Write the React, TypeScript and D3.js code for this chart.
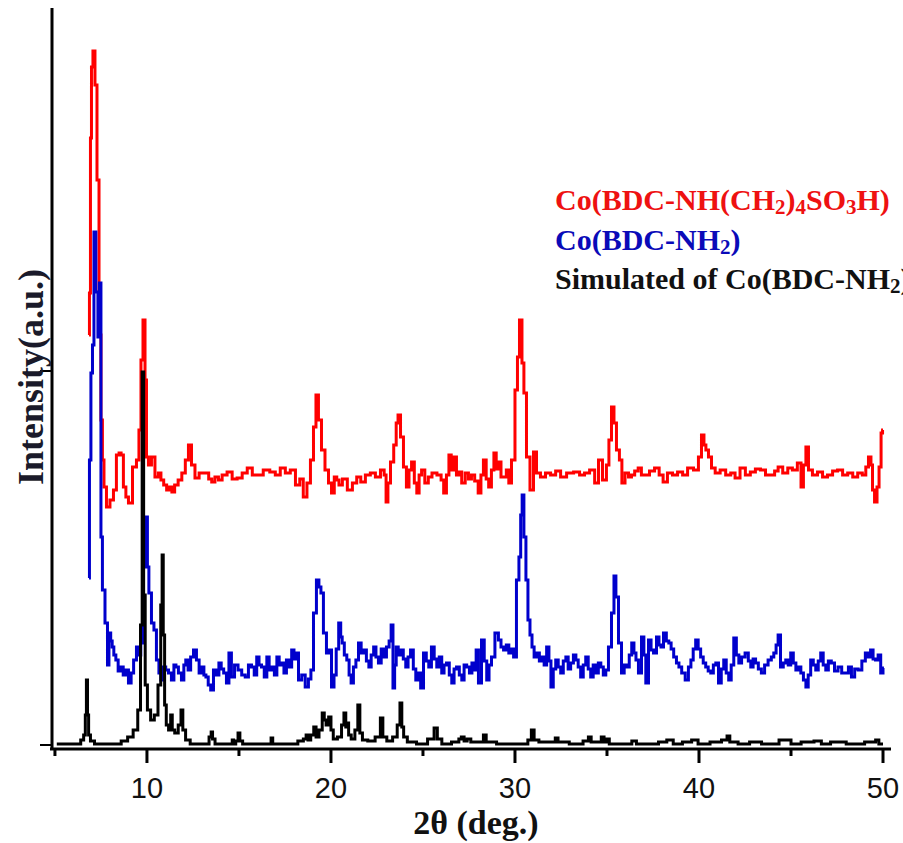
import React, { useEffect, useRef } from 'react';
import * as d3 from 'd3';

// 2θ (deg.) vs intensity (a.u., offset patterns as plotted)
const redPattern: [number, number][] = [
  [6.85, 410], [6.9, 452], [6.96, 607], [7.01, 678], [7.12, 694], [7.23, 660], [7.34, 565], [7.45, 410],
  [7.55, 325], [7.61, 285], [7.72, 258], [7.88, 238], [8.1, 245], [8.26, 255], [8.42, 290], [8.55, 292],
  [8.64, 290], [8.8, 258], [8.91, 248], [9.08, 242], [9.35, 278], [9.51, 285], [9.62, 315], [9.73, 385],
  [9.84, 425], [9.95, 365], [10.0, 288], [10.16, 280], [10.33, 288], [10.54, 268], [10.7, 272], [10.82, 265],
  [11.0, 260], [11.14, 255], [11.3, 258], [11.41, 253], [11.6, 260], [11.79, 265], [12.0, 272], [12.17, 285],
  [12.34, 300], [12.5, 280], [12.72, 267], [12.95, 272], [13.26, 272], [13.45, 266], [13.59, 263], [13.8, 268],
  [13.97, 265], [14.2, 270], [14.51, 273], [14.75, 266], [15.05, 267], [15.3, 272], [15.6, 277], [15.85, 270],
  [16.14, 270], [16.5, 275], [16.85, 273], [17.1, 270], [17.39, 277], [17.65, 272], [17.93, 275], [18.21, 260],
  [18.4, 266], [18.59, 248], [18.8, 262], [18.97, 285], [19.13, 318], [19.24, 350], [19.4, 325], [19.57, 295],
  [19.78, 275], [19.95, 262], [20.11, 252], [20.25, 268], [20.38, 265], [20.49, 260], [20.75, 266], [21.03, 255],
  [21.3, 262], [21.5, 268], [21.74, 263], [22.0, 270], [22.28, 272], [22.55, 268], [22.83, 275], [22.95, 270],
  [23.04, 243], [23.15, 262], [23.32, 283], [23.5, 300], [23.59, 322], [23.7, 330], [23.86, 308], [24.02, 278],
  [24.18, 258], [24.3, 275], [24.46, 283], [24.6, 262], [24.73, 252], [24.85, 270], [25.0, 275], [25.2, 262],
  [25.38, 268], [25.6, 272], [25.92, 270], [26.05, 265], [26.2, 252], [26.35, 270], [26.47, 290], [26.6, 275],
  [26.74, 288], [26.9, 270], [27.01, 273], [27.2, 262], [27.39, 272], [27.55, 266], [27.72, 270], [27.9, 264],
  [28.1, 252], [28.2, 270], [28.37, 285], [28.5, 266], [28.64, 258], [28.8, 275], [28.91, 292], [29.05, 276],
  [29.18, 283], [29.3, 268], [29.46, 268], [29.6, 275], [29.73, 262], [29.89, 285], [30.11, 355], [30.16, 388],
  [30.33, 425], [30.43, 382], [30.54, 352], [30.71, 288], [30.92, 255], [31.09, 293], [31.25, 272], [31.52, 268],
  [31.8, 272], [32.07, 270], [32.35, 274], [32.61, 268], [33.0, 272], [33.37, 273], [33.65, 270], [33.91, 272],
  [34.2, 275], [34.46, 262], [34.62, 285], [34.89, 265], [35.05, 280], [35.16, 305], [35.33, 338], [35.43, 322],
  [35.6, 295], [35.75, 285], [35.87, 262], [36.09, 272], [36.25, 268], [36.41, 270], [36.6, 274], [36.79, 277],
  [36.95, 270], [37.17, 270], [37.45, 274], [37.72, 277], [37.95, 270], [38.15, 263], [38.42, 272], [38.7, 270],
  [38.97, 273], [39.25, 270], [39.51, 277], [39.89, 275], [40.05, 288], [40.22, 310], [40.32, 300], [40.43, 295],
  [40.6, 288], [40.76, 277], [41.0, 272], [41.3, 275], [41.6, 270], [41.85, 272], [42.07, 267], [42.39, 277],
  [42.65, 270], [42.93, 273], [43.2, 276], [43.48, 275], [43.75, 270], [44.02, 270], [44.2, 274], [44.4, 278],
  [44.7, 272], [44.95, 277], [45.2, 275], [45.49, 282], [45.6, 258], [45.75, 280], [45.87, 298], [46.03, 275],
  [46.3, 270], [46.58, 273], [46.85, 268], [47.12, 270], [47.4, 274], [47.66, 275], [47.95, 270], [48.21, 272],
  [48.5, 268], [48.75, 272], [49.0, 270], [49.13, 278], [49.29, 288], [49.4, 280], [49.46, 255], [49.62, 243],
  [49.73, 258], [49.84, 278], [49.95, 312], [50.0, 315],
];

const bluePattern: [number, number][] = [
  [6.85, 167], [6.9, 285], [7.01, 372], [7.07, 400], [7.17, 513], [7.28, 453], [7.39, 408], [7.45, 462],
  [7.55, 208], [7.61, 155], [7.83, 122], [7.88, 80], [7.99, 112], [8.07, 104], [8.15, 98], [8.25, 90],
  [8.37, 85], [8.5, 74], [8.64, 78], [8.78, 70], [8.91, 75], [9.08, 62], [9.2, 72], [9.35, 85],
  [9.51, 98], [9.6, 90], [9.73, 102], [9.84, 178], [9.95, 215], [10.0, 228], [10.05, 178], [10.16, 152],
  [10.33, 122], [10.43, 115], [10.6, 85], [10.7, 72], [10.82, 65], [10.95, 78], [11.09, 75], [11.25, 72],
  [11.41, 65], [11.52, 80], [11.63, 78], [11.79, 72], [11.96, 65], [12.05, 80], [12.17, 85], [12.3, 75],
  [12.45, 88], [12.61, 95], [12.77, 85], [12.9, 72], [13.04, 78], [13.15, 70], [13.26, 68], [13.4, 60],
  [13.53, 55], [13.7, 75], [13.85, 70], [13.97, 82], [14.1, 76], [14.24, 72], [14.4, 62], [14.51, 92],
  [14.67, 68], [14.85, 80], [15.05, 75], [15.25, 70], [15.43, 68], [15.6, 80], [15.76, 78], [15.9, 70],
  [16.03, 88], [16.15, 80], [16.3, 78], [16.45, 68], [16.58, 88], [16.7, 75], [16.85, 78], [17.0, 70],
  [17.12, 88], [17.25, 80], [17.39, 82], [17.5, 72], [17.66, 85], [17.8, 78], [17.93, 95], [18.05, 86],
  [18.15, 92], [18.32, 65], [18.5, 70], [18.7, 58], [18.85, 66], [18.97, 75], [19.13, 132], [19.29, 165],
  [19.4, 158], [19.51, 152], [19.67, 112], [19.84, 92], [19.95, 95], [20.11, 58], [20.22, 70], [20.35, 96],
  [20.49, 122], [20.57, 108], [20.65, 102], [20.8, 90], [20.92, 85], [21.05, 70], [21.14, 62], [21.3, 78],
  [21.41, 85], [21.58, 102], [21.7, 92], [21.85, 95], [22.0, 84], [22.12, 78], [22.25, 90], [22.39, 98],
  [22.5, 88], [22.66, 82], [22.8, 96], [22.93, 88], [23.1, 98], [23.22, 104], [23.32, 120], [23.42, 57],
  [23.5, 80], [23.59, 98], [23.72, 90], [23.86, 95], [24.0, 86], [24.13, 78], [24.25, 88], [24.4, 95],
  [24.55, 76], [24.67, 65], [24.8, 72], [24.95, 57], [25.11, 92], [25.25, 84], [25.38, 78], [25.54, 98],
  [25.68, 86], [25.82, 78], [25.95, 88], [26.09, 72], [26.2, 80], [26.36, 82], [26.5, 70], [26.63, 62],
  [26.75, 76], [26.9, 78], [27.05, 70], [27.17, 65], [27.3, 80], [27.45, 78], [27.6, 72], [27.72, 82],
  [27.85, 75], [27.93, 95], [28.1, 62], [28.26, 105], [28.4, 84], [28.53, 65], [28.65, 80], [28.8, 88],
  [29.02, 112], [29.18, 105], [29.3, 98], [29.46, 95], [29.6, 100], [29.73, 92], [29.85, 96], [30.0, 88],
  [30.16, 165], [30.27, 188], [30.35, 230], [30.43, 250], [30.54, 208], [30.65, 165], [30.76, 125], [30.87, 110],
  [30.98, 98], [31.1, 88], [31.25, 92], [31.4, 84], [31.52, 88], [31.65, 80], [31.79, 98], [31.9, 84],
  [32.01, 58], [32.15, 76], [32.28, 85], [32.42, 78], [32.55, 72], [32.7, 84], [32.83, 88], [32.95, 76],
  [33.1, 82], [33.25, 90], [33.37, 85], [33.5, 78], [33.64, 68], [33.78, 80], [33.91, 88], [34.05, 76],
  [34.18, 68], [34.32, 80], [34.46, 72], [34.6, 82], [34.73, 78], [34.87, 70], [35.0, 75], [35.16, 98],
  [35.33, 132], [35.43, 169], [35.54, 148], [35.71, 102], [35.87, 72], [36.0, 80], [36.14, 78], [36.28, 90],
  [36.41, 102], [36.52, 92], [36.63, 85], [36.79, 72], [36.96, 108], [37.05, 90], [37.17, 62], [37.34, 105],
  [37.45, 95], [37.61, 92], [37.77, 108], [37.88, 100], [37.99, 98], [38.15, 112], [38.3, 104], [38.42, 102],
  [38.55, 96], [38.7, 88], [38.85, 82], [38.97, 78], [39.15, 72], [39.35, 65], [39.5, 78], [39.62, 85],
  [39.75, 96], [39.89, 105], [40.02, 96], [40.16, 88], [40.3, 82], [40.43, 78], [40.57, 74], [40.71, 72],
  [40.85, 80], [40.98, 82], [41.14, 62], [41.28, 76], [41.41, 85], [41.55, 72], [41.68, 65], [41.82, 80],
  [41.96, 107], [42.1, 90], [42.23, 82], [42.4, 88], [42.61, 92], [42.75, 84], [42.88, 78], [43.0, 86],
  [43.15, 82], [43.3, 76], [43.48, 72], [43.65, 80], [43.86, 85], [44.0, 88], [44.13, 92], [44.25, 100],
  [44.35, 110], [44.51, 78], [44.65, 82], [44.78, 85], [44.92, 80], [45.05, 92], [45.2, 82], [45.33, 75],
  [45.47, 78], [45.6, 72], [45.75, 65], [45.87, 58], [46.0, 70], [46.14, 85], [46.28, 80], [46.41, 75],
  [46.55, 84], [46.68, 92], [46.82, 80], [46.96, 75], [47.1, 84], [47.28, 82], [47.45, 74], [47.66, 78],
  [47.85, 72], [48.04, 72], [48.2, 78], [48.37, 68], [48.55, 76], [48.75, 75], [48.95, 84], [49.13, 92],
  [49.25, 88], [49.4, 95], [49.52, 86], [49.67, 85], [49.8, 90], [49.95, 72], [50.05, 77],
];

const simulatedPattern: [number, number][] = [
  [5.1, 1], [6.3, 1], [6.5, 5], [6.62, 10], [6.68, 30], [6.74, 65], [6.8, 30], [6.86, 10], [7.0, 4],
  [7.3, 1], [8.4, 1], [8.8, 4], [9.1, 8], [9.4, 15], [9.6, 35], [9.7, 120], [9.78, 373], [9.86, 150],
  [9.95, 60], [10.1, 35], [10.3, 25], [10.5, 30], [10.7, 60], [10.8, 140], [10.85, 190], [10.92, 110],
  [11.0, 40], [11.1, 20], [11.25, 15], [11.33, 30], [11.42, 15], [11.6, 12], [11.8, 20], [11.9, 35],
  [12.0, 15], [12.2, 5], [12.5, 1], [13.3, 1], [13.45, 8], [13.53, 13], [13.6, 6], [13.8, 1],
  [14.6, 1], [14.67, 5], [14.75, 1], [14.9, 4], [15.0, 12], [15.1, 4], [15.3, 1], [16.7, 1],
  [16.79, 7], [16.88, 1], [18.0, 1], [18.4, 4], [18.6, 6], [18.7, 10], [18.8, 5], [19.0, 10],
  [19.13, 18], [19.25, 8], [19.45, 15], [19.6, 32], [19.67, 25], [19.8, 20], [19.95, 28], [20.05, 15],
  [20.2, 6], [20.5, 8], [20.65, 20], [20.76, 32], [20.85, 18], [20.92, 22], [21.0, 10], [21.2, 6],
  [21.4, 15], [21.52, 40], [21.62, 12], [21.8, 5], [22.2, 4], [22.6, 8], [22.77, 27], [22.87, 8],
  [23.2, 4], [23.5, 8], [23.7, 20], [23.8, 42], [23.9, 18], [24.0, 8], [24.3, 3], [25.0, 1],
  [25.5, 6], [25.71, 17], [25.85, 6], [26.2, 1], [26.9, 3], [27.0, 6], [27.17, 8], [27.3, 4],
  [27.5, 6], [27.7, 3], [28.2, 3], [28.37, 10], [28.5, 3], [29.5, 1], [30.6, 1], [30.8, 5],
  [30.98, 15], [31.1, 5], [31.5, 3], [32.1, 3], [32.28, 7], [32.4, 3], [33.5, 1], [33.9, 4],
  [34.08, 8], [34.2, 3], [34.6, 3], [34.78, 8], [34.9, 3], [35.05, 6], [35.2, 1], [36.2, 1],
  [36.5, 4], [36.7, 1], [37.6, 1], [38.0, 3], [38.5, 5], [38.7, 1], [39.5, 3], [39.7, 5],
  [40.2, 1], [41.0, 3], [41.45, 5], [41.6, 9], [41.75, 3], [42.5, 1], [43.0, 3], [43.8, 1],
  [44.9, 5], [45.1, 1], [46.0, 3], [46.5, 4], [46.8, 1], [47.5, 3], [48.5, 1], [49.5, 3],
  [49.7, 5], [49.85, 1], [50.0, 1],
];

const xDomain = [4.84, 50.38];
const yDomain = [0, 737];
const xMajorTicks = [10, 20, 30, 40, 50];
const xMinorTicks = [5, 15, 25, 35, 45];
const yTicks = [0, 374];

// legend text split in [text, isSubscript]
const legendRed: [string, boolean][] = [['Co(BDC-NH(CH', false], ['2', true], [')', false], ['4', true], ['SO', false], ['3', true], ['H)', false]];
const legendBlue: [string, boolean][] = [['Co(BDC-NH', false], ['2', true], [')', false]];
const legendBlack: [string, boolean][] = [['Simulated of Co(BDC-NH', false], ['2', true], [')', false]];

const series = [
  { name: 'red', data: redPattern, color: '#ff0000' },
  { name: 'blue', data: bluePattern, color: '#0000cc' },
  { name: 'sim', data: simulatedPattern, color: '#000000' },
];

const legends = [
  { parts: legendRed, color: '#ee1111' },
  { parts: legendBlue, color: '#0a0ab8' },
  { parts: legendBlack, color: '#111111' },
];

const App = () => {
  const ref = useRef<SVGSVGElement>(null);

  useEffect(() => {
    const svg = d3.select(ref.current);
    svg.selectAll('*').remove();

    const x = d3.scaleLinear().domain(xDomain).range([52, 890]);
    const y = d3.scaleLinear().domain(yDomain).range([745, 8]);

    // patterns
    const line = d3.line<[number, number]>()
      .x(d => x(d[0]))
      .y(d => y(d[1]))
      .curve(d3.curveStep);

    series.forEach(s => {
      svg.append('path')
        .datum(s.data)
        .attr('d', line)
        .attr('fill', 'none')
        .attr('stroke', s.color)
        .attr('stroke-width', 3)
        .attr('stroke-linejoin', 'miter');
    });

    // x axis
    const axisY = y(0) + 4;
    svg.append('line')
      .attr('x1', 50).attr('x2', 891)
      .attr('y1', axisY).attr('y2', axisY)
      .attr('stroke', '#000').attr('stroke-width', 3);

    svg.append('g').selectAll('line')
      .data(xMajorTicks)
      .join('line')
      .attr('x1', d => x(d)).attr('x2', d => x(d))
      .attr('y1', axisY).attr('y2', axisY + 14)
      .attr('stroke', '#000').attr('stroke-width', 3);

    svg.append('g').selectAll('line')
      .data(xMinorTicks)
      .join('line')
      .attr('x1', d => x(d)).attr('x2', d => x(d))
      .attr('y1', axisY).attr('y2', axisY + 7)
      .attr('stroke', '#000').attr('stroke-width', 3);

    svg.append('g').selectAll('text')
      .data(xMajorTicks)
      .join('text')
      .attr('x', d => x(d))
      .attr('y', 798)
      .attr('text-anchor', 'middle')
      .style('font-family', '"Liberation Sans", Arial, sans-serif')
      .style('font-size', '29px')
      .style('fill', '#111')
      .text(d => d);

    // y axis
    svg.append('line')
      .attr('x1', 52).attr('x2', 52)
      .attr('y1', 8).attr('y2', axisY + 1)
      .attr('stroke', '#000').attr('stroke-width', 3);

    svg.append('g').selectAll('line')
      .data(yTicks)
      .join('line')
      .attr('x1', 40).attr('x2', 52)
      .attr('y1', d => y(d)).attr('y2', d => y(d))
      .attr('stroke', '#000').attr('stroke-width', 2);

    // axis titles
    svg.append('text')
      .attr('x', 476).attr('y', 834)
      .attr('text-anchor', 'middle')
      .style('font-family', '"Liberation Serif", "Times New Roman", serif')
      .style('font-weight', 'bold')
      .style('font-size', '34px')
      .style('fill', '#111')
      .text('2θ (deg.)');

    svg.append('text')
      .attr('transform', 'translate(43,377) rotate(-90)')
      .attr('text-anchor', 'middle')
      .style('font-family', '"Liberation Serif", "Times New Roman", serif')
      .style('font-weight', 'bold')
      .style('font-size', '36px')
      .style('fill', '#1a1a2a')
      .text('Intensity(a.u.)');

    // legend, subscripts lowered and smaller
    legends.forEach((lg, i) => {
      const t = svg.append('text')
        .attr('x', 555)
        .attr('y', 210 + i * 39.5)
        .style('font-family', '"Liberation Serif", "Times New Roman", serif')
        .style('font-weight', 'bold')
        .style('font-size', '30px')
        .style('fill', lg.color);
      let shifted = false;
      lg.parts.forEach(([txt, sub]) => {
        let dy = 0;
        if (sub && !shifted) { dy = 4; shifted = true; }
        else if (!sub && shifted) { dy = -4; shifted = false; }
        t.append('tspan')
          .attr('dy', dy)
          .style('font-size', sub ? '21px' : null)
          .text(txt);
      });
    });
  }, []);

  return (
    <svg ref={ref} width={903} height={843}
      style={{ position: 'absolute', left: 0, top: 0, background: '#fff' }} />
  );
};

export default App;
